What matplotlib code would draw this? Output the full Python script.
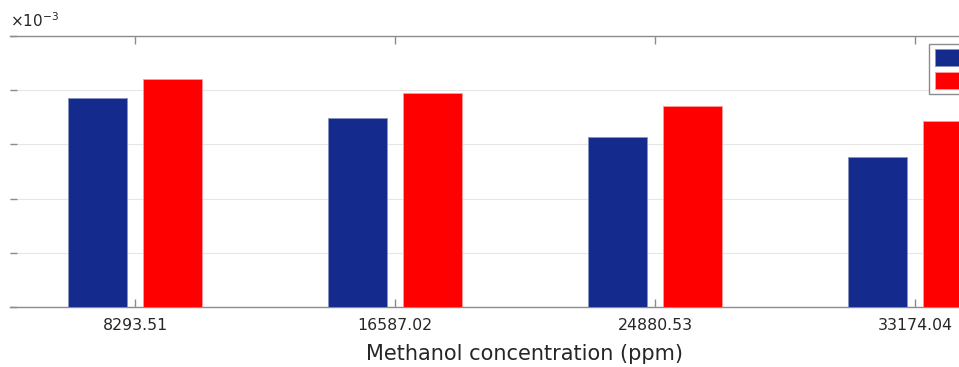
import matplotlib
matplotlib.use("Agg")
import matplotlib.pyplot as plt
import matplotlib.transforms as mtransforms
import numpy as np

# Data
concentrations = ["8293.51", "16587.02", "24880.53", "33174.04"]
series_a = [3.855e-3, 3.487e-3, 3.131e-3, 2.776e-3]
series_b = [4.215e-3, 3.952e-3, 3.700e-3, 3.438e-3]
series_labels = ["Sensor 1", "Sensor 2"]
y_ticks = [0, 1e-3, 2e-3, 3e-3, 4e-3, 5e-3]
y_exponent = -3

W, H = 959, 367
plt.rcParams["font.family"] = ["DejaVu Sans"]
plt.rcParams["mathtext.fontset"] = "dejavusans"
fig = plt.figure(figsize=(W / 100, H / 100), dpi=100)

# axes span past the right edge of the canvas
left_px, right_px, top_px, bottom_px = 10, 1040, 36, 307
ax = fig.add_axes([left_px / W, 1 - bottom_px / H,
                   (right_px - left_px) / W, (bottom_px - top_px) / H])

x = np.arange(1, len(concentrations) + 1)
width = 0.227
offset = 0.144
blue = "#142a8c"
red = "#ff0000"
ax.bar(x - offset, series_a, width, color=blue, edgecolor="#8a93c0",
       linewidth=0.6, label=series_labels[0], zorder=3)
ax.bar(x + offset, series_b, width, color=red, edgecolor="#ff9a9a",
       linewidth=0.6, label=series_labels[1], zorder=3)

half = 125 / 260
ax.set_xlim(1 - half, 4 + half)
ax.set_ylim(0, 5e-3)
ax.set_xticks(x)
ax.set_xticklabels(concentrations)
ax.set_yticks(y_ticks)

spine_col = "#8c8c8c"
text_col = "#262626"
for s in ax.spines.values():
    s.set_color(spine_col)
    s.set_linewidth(1.0)
ax.spines["left"].set_visible(False)

ax.tick_params(axis="x", direction="in", length=6, width=1.0, color=spine_col,
               top=True, bottom=True, labelsize=11.3, labelcolor=text_col, pad=8)
ax.tick_params(axis="y", direction="in", length=5, width=1.0, color=spine_col,
               left=True, right=True, labelleft=False)

# axis multiplier above the top-left corner
mult_tr = mtransforms.offset_copy(ax.transAxes, fig=fig, x=0, y=9, units="dots")
ax.text(0, 1, r"$\times10^{%d}$" % y_exponent, transform=mult_tr,
        fontsize=11, color=text_col, ha="left", va="baseline")

ax.grid(axis="y", color="#e6e6e6", linewidth=0.8, zorder=0)
ax.set_axisbelow(True)

ax.set_xlabel("Methanol concentration (ppm)", fontsize=15, color=text_col, labelpad=8)

fig.legend(loc="upper left", bbox_to_anchor=(929 / W, 1 - 44 / H),
           bbox_transform=fig.transFigure, frameon=True, fancybox=False,
           edgecolor="#707070", fontsize=11, handlelength=2.2,
           handleheight=1.31, borderpad=0.36, labelspacing=0.39,
           borderaxespad=0)

fig.savefig("out.png", dpi=100)
